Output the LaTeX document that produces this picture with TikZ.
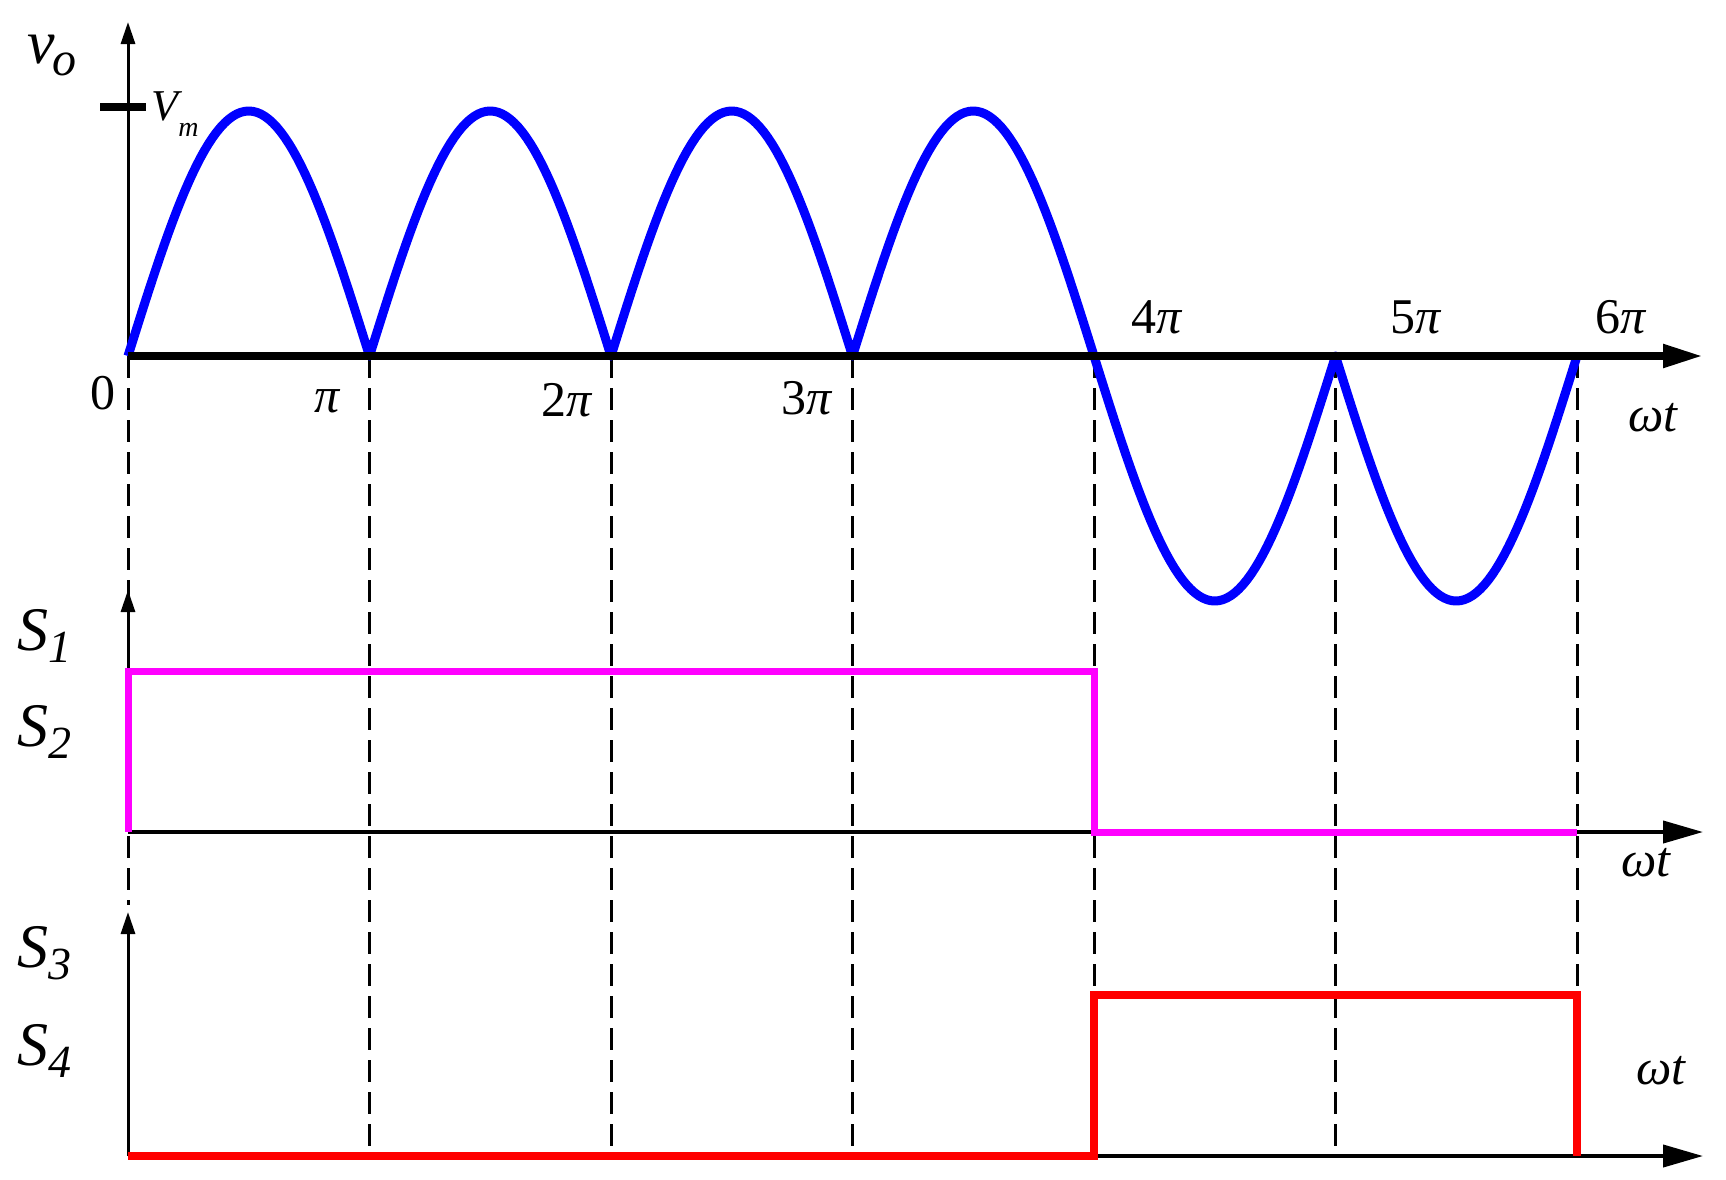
\documentclass[tikz,border=0pt]{standalone}
\usepackage{fontspec}
\setmainfont{Liberation Serif}
\usetikzlibrary{arrows.meta}
\definecolor{mag}{RGB}{255,0,255}
\begin{document}
\begin{tikzpicture}[x=1pt,y=-1pt,
  ax/.style={line width=4pt,-{Triangle[length=40pt,width=22pt]}},
  axt/.style={line width=8pt,-{Triangle[length=40pt,width=22pt]}},
  yax/.style={line width=3pt,-{Triangle[length=22pt,width=14pt]}},
  dsh/.style={line width=3pt,dash pattern=on 22pt off 10pt},
  lab/.style={font=\fontsize{50}{54}\selectfont\itshape,inner sep=0pt},
  slab/.style={font=\fontsize{62}{64}\selectfont\itshape,inner sep=0pt}]
\useasboundingbox (0,0) rectangle (1726,1179);
\fill[white] (0,0) rectangle (1726,1179);
% coordinates
\foreach \k/\x in {0/128,1/369.5,2/611,3/852.5,4/1094,5/1335.5,6/1577}{
  \coordinate (t\k) at (\x,356);
  \coordinate (b\k) at (\x,1156);
}
\coordinate (y0) at (128,1156);
% dashed guides
\draw[dsh] (t0) -- (128,905);
\foreach \k in {1,...,6}{\draw[dsh] (t\k) -- (b\k);}
% axes
\coordinate (a1s) at (128,356); \coordinate (a1e) at (1703,356);
\coordinate (v1s) at (128,356); \coordinate (v1e) at (128,22);
\draw[yax] (v1s) -- (v1e);
\coordinate (a2s) at (128,832); \coordinate (a2e) at (1703,832);
\coordinate (v2e) at (128,590);
\draw[ax] (a2s) -- (a2e);
\draw[yax] (a2s) -- (v2e);
\coordinate (a3e) at (1703,1156); \coordinate (v3e) at (128,912);
\draw[ax] (y0) -- (a3e);
\draw[yax] (y0) -- (v3e);
% waveform
\draw[blue,line width=9pt,line join=round] plot[domain=0:720,samples=241,variable=\t]
  ({128+\t/180*241.5},{356-245*abs(sin(\t))});
\draw[blue,line width=9pt,line join=round] plot[domain=720:1080,samples=121,variable=\t]
  ({128+\t/180*241.5},{356+245*abs(sin(\t))});
\draw[axt] (a1s) -- (a1e);
% Vm tick
\coordinate (vm1) at (100,107); \coordinate (vm2) at (146,107);
\draw[line width=8pt] (vm1) -- (vm2);
% switching signals
\draw[mag,line width=7pt] (a2s) -- (128,671) -- (1094,671) -- (1094,832) -- (1577,832);
\draw[red,line width=8pt] (y0) -- (1094,1156) -- (1094,995) -- (1577,995) -- (1577,1156);
% labels
\node[slab] (vo) at (52,55) {v\kern-2pt\raisebox{-12pt}{\fontsize{48}{50}\selectfont o}};
\node[lab,font=\fontsize{44}{48}\selectfont\itshape] (vm) at (175,114) {V\raisebox{-16pt}{\fontsize{28}{30}\selectfont m}};
\node[lab,font=\fontsize{50}{54}\selectfont] (l0) at (103,393) {0};
\node[lab] (lp1) at (327,401) {π};
\node[lab] (lp2) at (567,400) {\upshape 2\itshape π};
\node[lab] (lp3) at (807,398) {\upshape 3\itshape π};
\node[lab] (lp4) at (1157,317) {\upshape 4\itshape π};
\node[lab] (lp5) at (1416,317) {\upshape 5\itshape π};
\node[lab] (lp6) at (1621,317) {\upshape 6\itshape π};
\node[lab] (w1) at (1653,418) {ωt};
\node[lab] (w2) at (1646,863) {ωt};
\node[lab] (w3) at (1661,1071) {ωt};
\node[slab] (s1) at (44,636) {S\raisebox{-12pt}{\fontsize{46}{48}\selectfont 1}};
\node[slab] (s2) at (44,732) {S\raisebox{-12pt}{\fontsize{46}{48}\selectfont 2}};
\node[slab] (s3) at (44,953) {S\raisebox{-12pt}{\fontsize{46}{48}\selectfont 3}};
\node[slab] (s4) at (44,1051) {S\raisebox{-12pt}{\fontsize{46}{48}\selectfont 4}};
\end{tikzpicture}
\end{document}
